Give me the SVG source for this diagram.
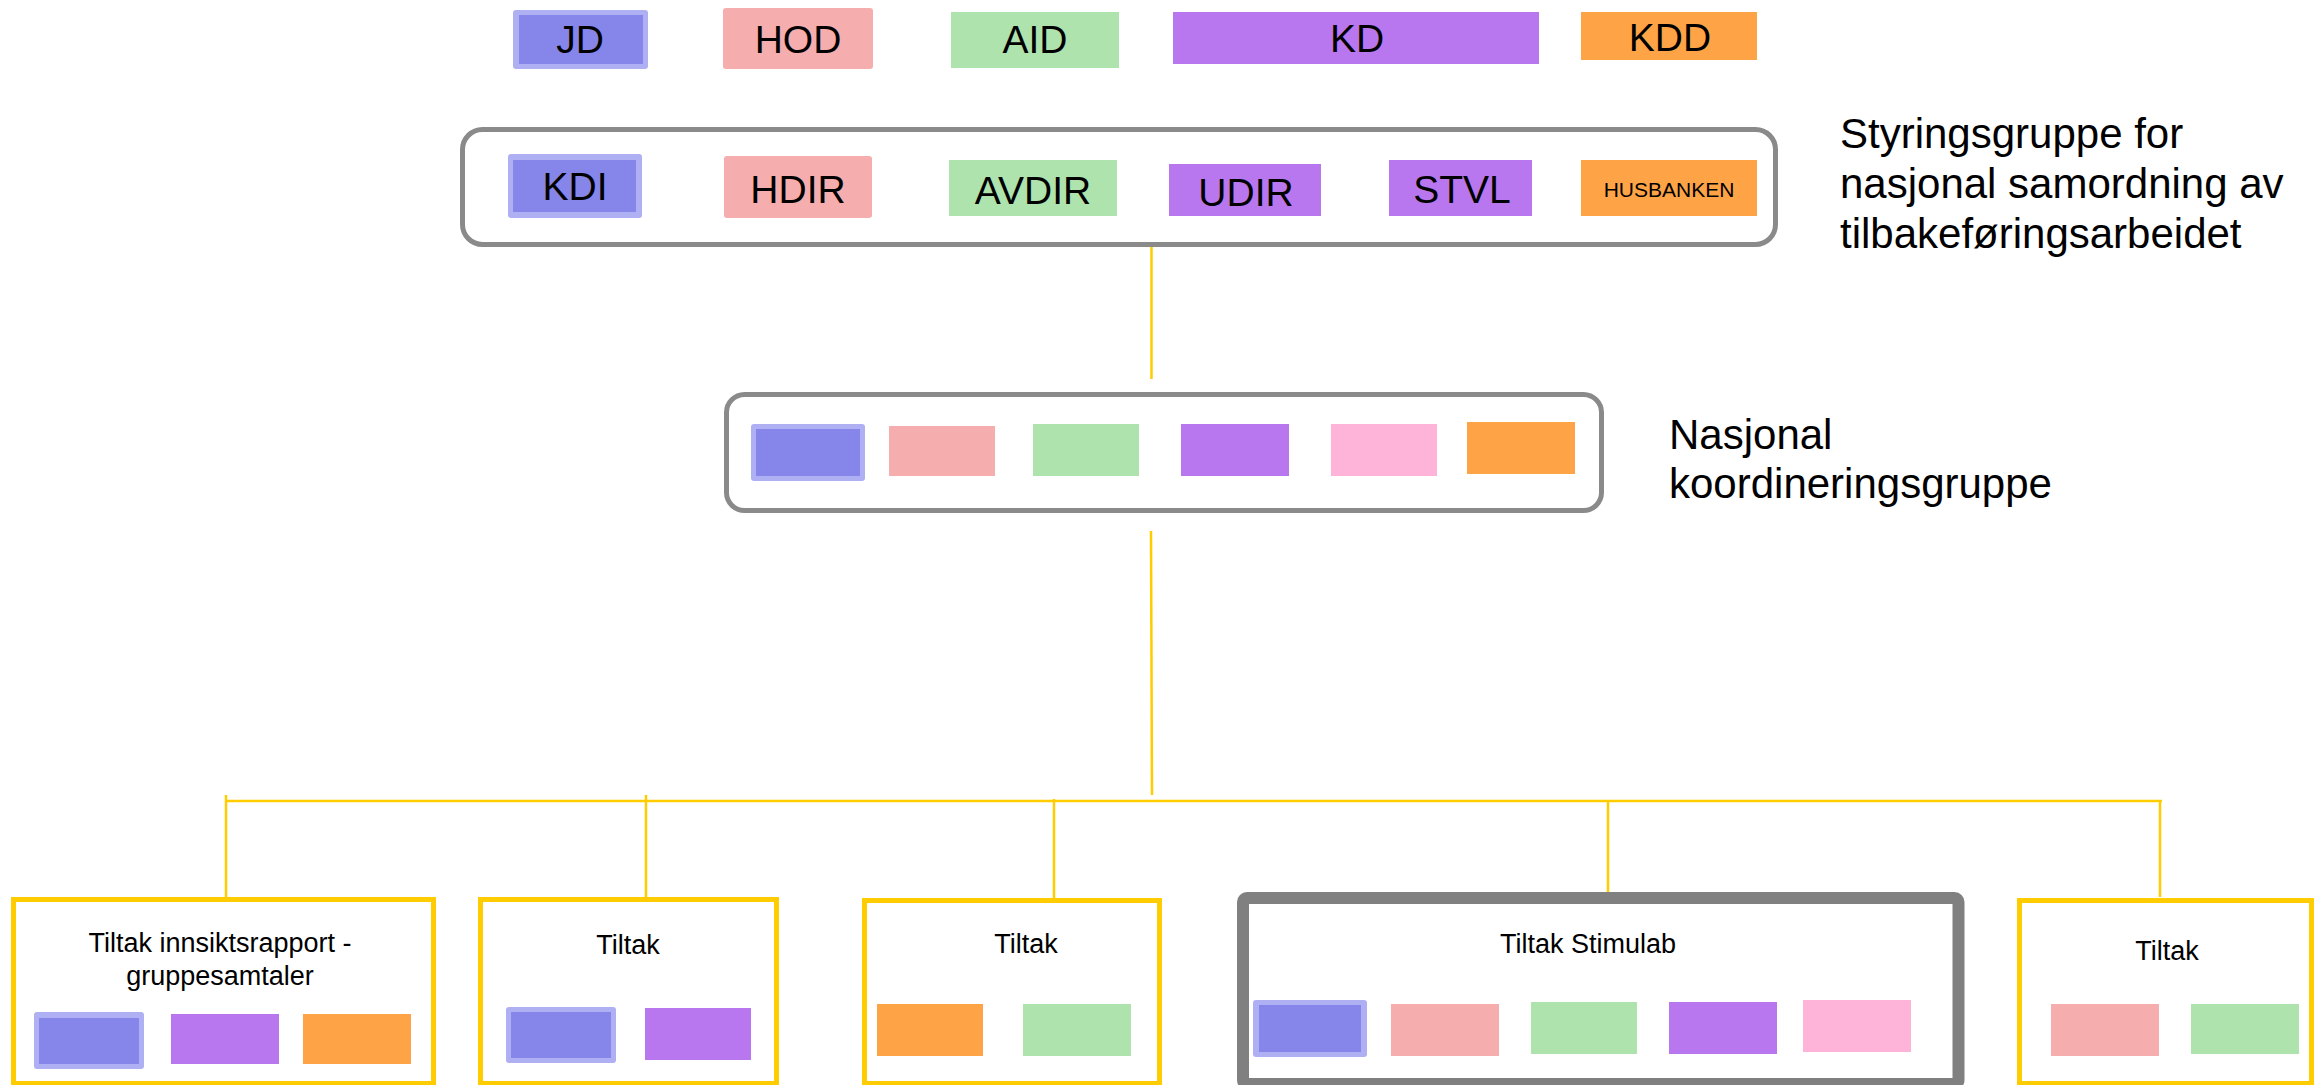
<svg xmlns="http://www.w3.org/2000/svg" width="2317" height="1085" viewBox="0 0 2317 1085">
<style>
.t{font-family:"Liberation Sans",Arial,sans-serif;fill:#000;text-anchor:middle}
.big{font-size:39px}
.lbl{font-family:"Liberation Sans",Arial,sans-serif;font-size:42px;fill:#000}
.small{font-size:27px}
.bo{fill:#afaff3}
.bi{fill:#8585ea}
.pk{fill:#f6adad}
.gr{fill:#aee3ae}
.pu{fill:#b877ef}
.or{fill:#ffa446}
.lp{fill:#feb3d8}
.grp{fill:#fff;stroke:#8a8a8a;stroke-width:5}
.tb{fill:#fff;stroke:#ffcc00;stroke-width:5}
.conn{stroke:#ffcc00;stroke-width:2.5;fill:none}
</style>
<rect width="2317" height="1085" fill="#fff"/>

<g id="connectors">
<path class="conn" d="M1151.5 247V379"/>
<path class="conn" d="M1151 531L1152 795"/>
<path class="conn" d="M225 801H2162"/>
<path class="conn" d="M226 795V897"/>
<path class="conn" d="M646 795V897"/>
<path class="conn" d="M1054 799V903"/>
<path class="conn" d="M1608 802V905"/>
<path class="conn" d="M2160 801V897"/>
</g>

<g id="ministries">
<g id="jd"><rect class="bo" x="513" y="10" width="135" height="59" rx="3"/><rect class="bi" x="519" y="15" width="124" height="49"/><text class="t big" x="580" y="53">JD</text></g>
<g id="hod"><rect class="pk" x="723" y="8" width="150" height="61" rx="3"/><text class="t big" x="798" y="53">HOD</text></g>
<g id="aid"><rect class="gr" x="951" y="12" width="168" height="56"/><text class="t big" x="1035" y="53">AID</text></g>
<g id="kd"><rect class="pu" x="1173" y="12" width="366" height="52"/><text class="t big" x="1357" y="52">KD</text></g>
<g id="kdd"><rect class="or" x="1581" y="12" width="176" height="48"/><text class="t big" x="1670" y="51">KDD</text></g>
</g>

<g id="styringsgruppe">
<rect class="grp" x="462.5" y="129.5" width="1313" height="115" rx="20"/>
<g id="kdi"><rect class="bo" x="508" y="154" width="134" height="64" rx="3"/><rect class="bi" x="513" y="160" width="123" height="52"/><text class="t big" x="575" y="200">KDI</text></g>
<g id="hdir"><rect class="pk" x="724" y="156" width="148" height="62" rx="3"/><text class="t big" x="798" y="203">HDIR</text></g>
<g id="avdir"><rect class="gr" x="949" y="160" width="168" height="56"/><text class="t big" x="1033" y="204">AVDIR</text></g>
<g id="udir"><rect class="pu" x="1169" y="164" width="152" height="52"/><text class="t big" x="1246" y="206">UDIR</text></g>
<g id="stvl"><rect class="pu" x="1389" y="160" width="143" height="56"/><text class="t big" x="1462" y="203">STVL</text></g>
<g id="husbanken"><rect class="or" x="1581" y="160" width="176" height="56"/><text class="t" style="font-size:21px" x="1669" y="197">HUSBANKEN</text></g>
<text class="lbl" x="1840" y="148">Styringsgruppe for</text>
<text class="lbl" x="1840" y="198">nasjonal samordning av</text>
<text class="lbl" x="1840" y="248">tilbakeføringsarbeidet</text>
</g>

<g id="koordineringsgruppe">
<rect class="grp" x="726.5" y="394.5" width="875" height="116" rx="18"/>
<rect class="bo" x="751" y="424" width="114" height="57" rx="3"/><rect class="bi" x="756" y="429" width="104" height="47"/>
<rect class="pk" x="889" y="426" width="106" height="50"/>
<rect class="gr" x="1033" y="424" width="106" height="52"/>
<rect class="pu" x="1181" y="424" width="108" height="52"/>
<rect class="lp" x="1331" y="424" width="106" height="52"/>
<rect class="or" x="1467" y="422" width="108" height="52"/>
<text class="lbl" x="1669" y="449">Nasjonal</text>
<text class="lbl" x="1669" y="498">koordineringsgruppe</text>
</g>

<g id="tiltak1">
<rect class="tb" x="13.5" y="899.5" width="420" height="184"/>
<text class="t small" x="220" y="952">Tiltak innsiktsrapport -</text>
<text class="t small" x="220" y="985">gruppesamtaler</text>
<rect class="bo" x="34" y="1012" width="110" height="57" rx="3"/><rect class="bi" x="39" y="1018" width="100" height="46"/>
<rect class="pu" x="171" y="1014" width="108" height="50"/>
<rect class="or" x="303" y="1014" width="108" height="50"/>
</g>

<g id="tiltak2">
<rect class="tb" x="480.5" y="899.5" width="296" height="184"/>
<text class="t small" x="628" y="954">Tiltak</text>
<rect class="bo" x="506" y="1007" width="110" height="56" rx="3"/><rect class="bi" x="511" y="1012" width="100" height="46"/>
<rect class="pu" x="645" y="1008" width="106" height="52"/>
</g>

<g id="tiltak3">
<rect class="tb" x="864.5" y="900.5" width="295" height="183"/>
<text class="t small" x="1026" y="953">Tiltak</text>
<rect class="or" x="877" y="1004" width="106" height="52"/>
<rect class="gr" x="1023" y="1004" width="108" height="52"/>
</g>

<g id="tiltak-stimulab">
<rect fill="#fff" stroke="#808080" stroke-width="12" x="1243" y="898" width="715.5" height="186" rx="4"/>
<text class="t small" x="1588" y="953">Tiltak Stimulab</text>
<rect class="bo" x="1253" y="1000" width="114" height="57" rx="3"/><rect class="bi" x="1259" y="1005" width="102" height="47"/>
<rect class="pk" x="1391" y="1004" width="108" height="52"/>
<rect class="gr" x="1531" y="1002" width="106" height="52"/>
<rect class="pu" x="1669" y="1002" width="108" height="52"/>
<rect class="lp" x="1803" y="1000" width="108" height="52"/>
</g>

<g id="tiltak5">
<rect class="tb" x="2019.5" y="900.5" width="292" height="183"/>
<text class="t small" x="2167" y="960">Tiltak</text>
<rect class="pk" x="2051" y="1004" width="108" height="52"/>
<rect class="gr" x="2191" y="1004" width="108" height="50"/>
</g>
</svg>
